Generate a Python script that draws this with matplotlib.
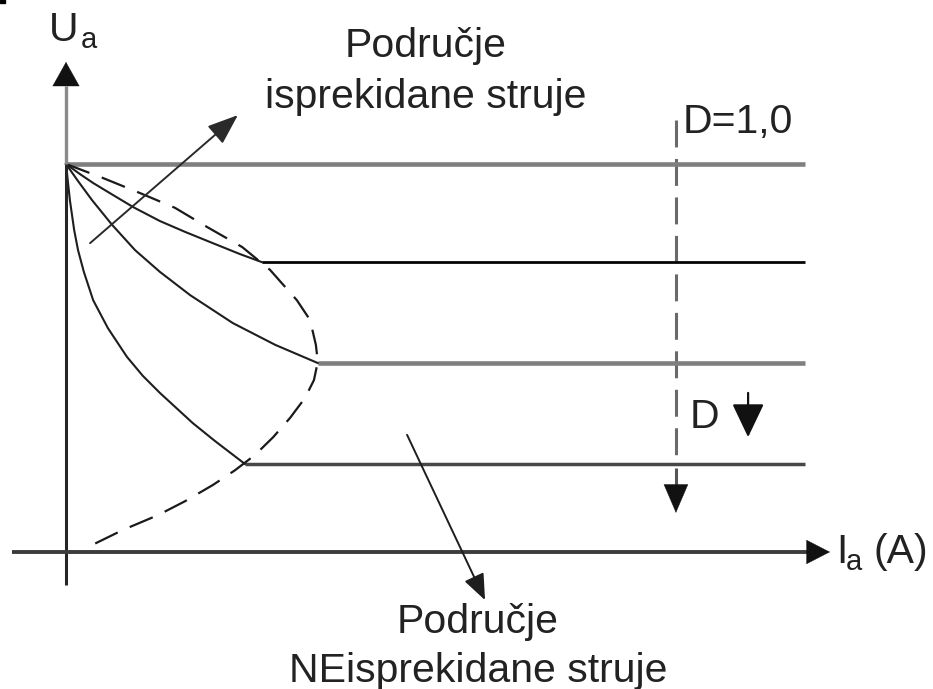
import matplotlib
matplotlib.use("Agg")
import matplotlib.pyplot as plt
from matplotlib.patches import FancyArrowPatch, Rectangle
import numpy as np

plt.rcParams['lines.scale_dashes'] = False
plt.rcParams['font.family'] = ['Liberation Sans', 'DejaVu Sans']

# ---------------- data (normalised units: Ua top level = 1.0) ----------------
D_levels = [1.000, 0.747, 0.487, 0.227]          # Ua of the horizontal characteristics
level_start = [0.000, 0.505, 0.649, 0.461]       # Ia where each flat part begins
level_end = 1.905

curveA_x = [0, 0.036, 0.070, 0.113, 0.173, 0.242, 0.307, 0.371, 0.448, 0.505]
curveA_y = [1.000, 0.974, 0.951, 0.925, 0.889, 0.853, 0.825, 0.799, 0.768, 0.747]

curveB_x = [0, 0.031, 0.067, 0.119, 0.178, 0.242, 0.320, 0.430, 0.539, 0.649]
curveB_y = [1.000, 0.956, 0.907, 0.843, 0.778, 0.722, 0.662, 0.590, 0.534, 0.487]

curveC_x = [0, 0.010, 0.021, 0.031, 0.046, 0.070, 0.108, 0.157, 0.198, 0.242, 0.327, 0.384, 0.461]
curveC_y = [1.000, 0.907, 0.830, 0.778, 0.722, 0.649, 0.577, 0.503, 0.454, 0.410, 0.332, 0.286, 0.227]

bound_x = [0, 0.095, 0.191, 0.281, 0.363, 0.454, 0.526, 0.595, 0.629, 0.644, 0.649,
           0.639, 0.616, 0.577, 0.534, 0.487, 0.436, 0.379, 0.307, 0.237, 0.147, 0.057]
bound_y = [1.000, 0.964, 0.925, 0.887, 0.838, 0.786, 0.727, 0.649, 0.598, 0.534, 0.490,
           0.443, 0.397, 0.345, 0.296, 0.250, 0.211, 0.173, 0.131, 0.095, 0.057, 0.013]

label_top = ["Područje", "isprekidane struje"]
label_bottom = ["Područje", "NEisprekidane struje"]
label_D1 = "D=1,0"
label_D = "D"

# ---------------- figure ----------------
P = 388.0  # pixels per data unit
fig = plt.figure(figsize=(9.33, 6.89), dpi=100)
ax = fig.add_axes([0, 0, 1, 1])
ax.set_xlim(-66 / P, 867 / P)
ax.set_ylim(-137 / P, 552 / P)
ax.axis('off')

pt2d = (100 / 72) / P  # points -> data units


def head_only(tip, direction, length, halfw, color='#111111'):
    d = np.array(direction, float)
    d /= np.hypot(*d)
    base = np.array(tip) - d * length * pt2d
    ax.add_patch(FancyArrowPatch(tuple(base), tuple(tip),
                                 arrowstyle=f'-|>,head_length={length},head_width={halfw}',
                                 mutation_scale=1, color=color, lw=0.3,
                                 shrinkA=0, shrinkB=0, zorder=6))


def arrow(p0, p1, length, halfw, color='#222222', lw=1.4):
    ax.add_patch(FancyArrowPatch(p0, p1,
                                 arrowstyle=f'-|>,head_length={length},head_width={halfw}',
                                 mutation_scale=1, color=color, lw=lw,
                                 shrinkA=0, shrinkB=0, zorder=6))


# axes
ax.plot([0, 0], [-0.085, D_levels[0]], color='#262626', lw=2.2, solid_capstyle='butt', zorder=4)
ax.plot([0, 0], [D_levels[0], 1.20], color='#8a8a8a', lw=2.4, solid_capstyle='butt', zorder=4)
head_only((0, 1.263), (0, 1), 17, 9.5)
ax.plot([-0.139, 1.92], [0, 0], color='#3c3c3c', lw=2.8, solid_capstyle='butt', zorder=4)
head_only((1.969, 0), (1, 0), 16.5, 8.5)

# horizontal characteristics
lvl_colors = ['#7f7f7f', '#050505', '#7f7f7f', '#474747']
lvl_widths = [3.3, 2.0, 3.3, 2.5]
for y, x0, c, w in zip(D_levels, level_start, lvl_colors, lvl_widths):
    ax.plot([x0, level_end], [y, y], color=c, lw=w, solid_capstyle='butt', zorder=3)

# discontinuous-current curves
for cx, cy in [(curveA_x, curveA_y), (curveB_x, curveB_y), (curveC_x, curveC_y)]:
    ax.plot(cx, cy, color='#1e1e1e', lw=1.5, zorder=3)

# boundary (dashed)
ax.plot(bound_x, bound_y, color='#1a1a1a', lw=1.6, dashes=(18, 9.5), zorder=3)

# vertical dashed D arrow
xv = 1.572
ax.plot([xv, xv], [1.113, 0.242], color='#6a6a6a', lw=2.2, dashes=(19.4, 8.3), zorder=2)
ax.plot([xv, xv], [0.216, 0.17], color='#555555', lw=2.2, solid_capstyle='butt', zorder=2)
head_only((xv, 0.101), (0, -1), 20, 8.6)

# small D arrow
arrow((1.758, 0.410), (1.758, 0.296), 21, 10, color='#111111', lw=1.6)

# annotation arrows
arrow((0.062, 0.796), (0.443, 1.126), 19, 7.2, color='#2a2a2a', lw=1.4)
arrow((0.879, 0.302), (1.080, -0.124), 16, 6.5, color='#1e1e1e', lw=1.4)

# texts
fs = 29.5
tc = '#222222'
ax.text(0.928, 1.276, label_top[0], fontsize=fs, ha='center', va='baseline', color=tc)
ax.text(0.928, 1.144, label_top[1], fontsize=fs, ha='center', va='baseline', color=tc)
ax.text(1.062, -0.209, label_bottom[0], fontsize=fs, ha='center', va='baseline', color=tc)
ax.text(1.062, -0.335, label_bottom[1], fontsize=fs, ha='center', va='baseline', color=tc)
ax.text(1.588, 1.080, label_D1, fontsize=fs, ha='left', va='baseline', color=tc)
ax.text(1.606, 0.320, label_D, fontsize=fs, ha='left', va='baseline', color=tc)

ax.text(-0.044, 1.317, "U", fontsize=fs, ha='left', va='baseline', color=tc)
ax.text(0.039, 1.299, "a", fontsize=21, ha='left', va='baseline', color=tc)
ax.text(1.985, -0.028, "I", fontsize=fs, ha='left', va='baseline', color=tc)
ax.text(2.010, -0.046, "a", fontsize=21, ha='left', va='baseline', color=tc)
ax.text(2.082, -0.028, "(A)", fontsize=fs, ha='left', va='baseline', color=tc)

# small mark in the top-left corner of the original
fig.patches.append(Rectangle((0, 1 - 3 / 689), 5 / 933, 3 / 689, transform=fig.transFigure,
                             color='black', zorder=10))

fig.savefig("out.png", dpi=100)
